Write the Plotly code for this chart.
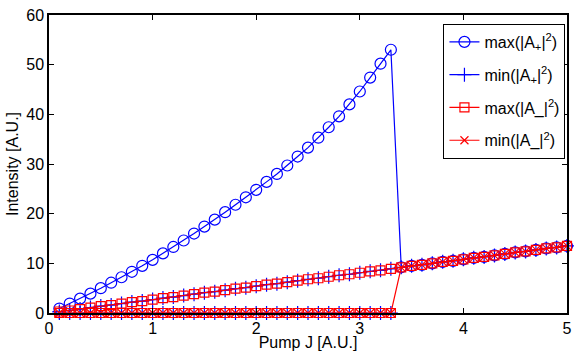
import plotly.graph_objects as go

# Pump values
J = [0.1, 0.2, 0.3, 0.4, 0.5, 0.6, 0.7, 0.8, 0.9, 1.0,
     1.1, 1.2, 1.3, 1.4, 1.5, 1.6, 1.7, 1.8, 1.9, 2.0,
     2.1, 2.2, 2.3, 2.4, 2.5, 2.6, 2.7, 2.8, 2.9, 3.0,
     3.1, 3.2, 3.3, 3.4, 3.5, 3.6, 3.7, 3.8, 3.9, 4.0,
     4.1, 4.2, 4.3, 4.4, 4.5, 4.6, 4.7, 4.8, 4.9, 5.0]

# symmetric (linear) branch
lin = [0.3, 0.5, 0.8, 1.1, 1.4, 1.6, 1.9, 2.2, 2.4, 2.7,
       3.0, 3.2, 3.5, 3.8, 4.1, 4.3, 4.6, 4.9, 5.1, 5.4,
       5.7, 5.9, 6.2, 6.5, 6.8, 7.0, 7.3, 7.6, 7.8, 8.1,
       8.4, 8.6, 8.9, 9.2, 9.5, 9.7, 10.0, 10.3, 10.5, 10.8,
       11.1, 11.3, 11.6, 11.9, 12.2, 12.4, 12.7, 13.0, 13.2, 13.5]

max_Ap = [0.9, 1.9, 2.9, 3.9, 5.0, 6.1, 7.2, 8.3, 9.5, 10.7,
          12.0, 13.3, 14.6, 16.0, 17.4, 18.8, 20.3, 21.8, 23.3, 24.8,
          26.4, 28.0, 29.7, 31.5, 33.3, 35.3, 37.4, 39.6, 42.0, 44.6,
          47.4, 50.2, 53.0, 9.2, 9.5, 9.7, 10.0, 10.3, 10.5, 10.8,
          11.1, 11.3, 11.6, 11.9, 12.2, 12.4, 12.7, 13.0, 13.2, 13.5]
min_Ap = lin
max_Am = lin
min_Am = [0.0] * 33 + [9.2, 9.5, 9.7, 10.0, 10.3, 10.5, 10.8,
                       11.1, 11.3, 11.6, 11.9, 12.2, 12.4, 12.7, 13.0, 13.2, 13.5]
# second (zero) branch markers visible below the bifurcation
J_low = J[:33]
low_branch = [0.0] * 33

BLUE = "#0000ff"
RED = "#ff0000"
FONT = "Liberation Sans, Arial, sans-serif"

fig = go.Figure()

fig.add_trace(go.Scatter(
    x=J, y=max_Ap, mode="lines+markers", name="max(|A<sub>+</sub>|<sup>2</sup>)",
    legendgroup="a",
    line=dict(color=BLUE, width=1.2),
    marker=dict(symbol="circle-open", size=11, color=BLUE, line=dict(width=1.2)),
    cliponaxis=False))
fig.add_trace(go.Scatter(
    x=J, y=min_Ap, mode="lines+markers", name="min(|A<sub>+</sub>|<sup>2</sup>)",
    legendgroup="b",
    line=dict(color=BLUE, width=1.2),
    marker=dict(symbol="cross-thin-open", size=10, color=BLUE, line=dict(width=1.2, color=BLUE)),
    cliponaxis=False))
fig.add_trace(go.Scatter(
    x=J_low, y=low_branch, mode="markers", showlegend=False, legendgroup="b",
    marker=dict(symbol="cross-thin-open", size=10, color=BLUE, line=dict(width=1.2, color=BLUE)),
    cliponaxis=False))
fig.add_trace(go.Scatter(
    x=J, y=max_Am, mode="lines+markers", name="max(|A_|<sup>2</sup>)",
    legendgroup="c",
    line=dict(color=RED, width=1.2),
    marker=dict(symbol="square-open", size=9, color=RED, line=dict(width=1.2)),
    cliponaxis=False))
fig.add_trace(go.Scatter(
    x=J_low, y=low_branch, mode="markers", showlegend=False, legendgroup="c",
    marker=dict(symbol="square-open", size=9, color=RED, line=dict(width=1.2)),
    cliponaxis=False))
fig.add_trace(go.Scatter(
    x=J, y=min_Am, mode="lines+markers", name="min(|A_|<sup>2</sup>)",
    legendgroup="d",
    line=dict(color=RED, width=1.2),
    marker=dict(symbol="x-thin-open", size=8, color=RED, line=dict(width=1.2, color=RED)),
    cliponaxis=False))

axis_common = dict(
    showline=True, linecolor="black", linewidth=1.5, mirror="ticks",
    ticks="inside", ticklen=5, tickcolor="black", tickwidth=1,
    showgrid=False, zeroline=False, automargin=False,
    tickfont=dict(family=FONT, size=16, color="black"),
)

fig.update_layout(
    width=583, height=351,
    margin=dict(l=49, r=16, t=15, b=38),
    paper_bgcolor="white", plot_bgcolor="white",
    font=dict(family=FONT, size=16, color="black"),
    xaxis=dict(range=[0, 5], dtick=1, tick0=0,
               title=dict(text="Pump J [A.U.]", standoff=0, font=dict(size=16)),
               **axis_common),
    yaxis=dict(range=[0, 60], dtick=10, tick0=0,
               title=dict(text="Intensity [A.U.]", standoff=4, font=dict(size=16)),
               **axis_common),
    legend=dict(x=0.997, y=0.97, xanchor="right", yanchor="top",
                bgcolor="white", bordercolor="black", borderwidth=1,
                font=dict(size=16), itemwidth=30, tracegroupgap=9,
                groupclick="toggleitem"),
    showlegend=True,
)

fig.write_html("out.html")
